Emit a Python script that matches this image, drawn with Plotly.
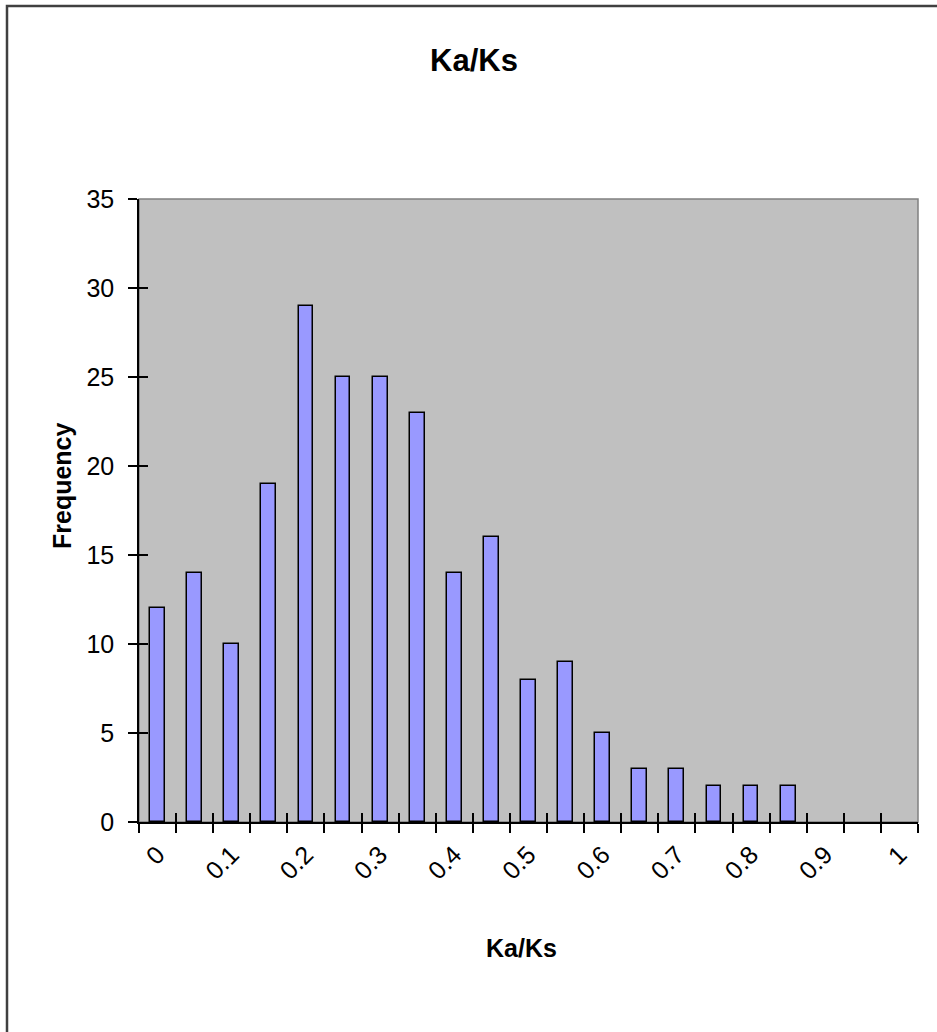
import plotly.graph_objects as go

# Data
bin_centers = [0.0, 0.05, 0.1, 0.15, 0.2, 0.25, 0.3, 0.35, 0.4, 0.45, 0.5,
               0.55, 0.6, 0.65, 0.7, 0.75, 0.8, 0.85, 0.9, 0.95, 1.0]
frequency = [12, 14, 10, 19, 29, 25, 25, 23, 14, 16, 8,
             9, 5, 3, 3, 2, 2, 2, 0, 0, 0]
x_tick_vals = [0.0, 0.1, 0.2, 0.3, 0.4, 0.5, 0.6, 0.7, 0.8, 0.9, 1.0]
x_tick_text = ["0", "0.1", "0.2", "0.3", "0.4", "0.5", "0.6", "0.7", "0.8", "0.9", "1"]
y_tick_vals = [0, 5, 10, 15, 20, 25, 30, 35]

FONT = "Arial, 'Liberation Sans', sans-serif"
W, H = 937, 1032
L, R, T, B = 139, 19, 199, 210
pw, ph = W - L - R, H - T - B

xrange_ = [-0.025, 1.025]
yrange_ = [0, 35]

# empty bins get no outline (as in the original, nothing is drawn for them)
outline_widths = [1.5 if f > 0 else 0 for f in frequency]

fig = go.Figure()
fig.add_trace(go.Bar(
    x=bin_centers, y=frequency, width=0.02,
    marker=dict(color="#9999FF", line=dict(color="black", width=outline_widths)),
    showlegend=False, hoverinfo="x+y",
))
# empty helper traces so the overlay axes (crossing ticks / labels) are drawn
fig.add_trace(go.Scatter(x=[None], y=[None], xaxis="x2", yaxis="y2",
                         showlegend=False, hoverinfo="skip"))
fig.add_trace(go.Scatter(x=[None], y=[None], xaxis="x3", yaxis="y",
                         showlegend=False, hoverinfo="skip"))

fig.update_layout(
    width=W, height=H,
    margin=dict(l=L, r=R, t=T, b=B),
    paper_bgcolor="white",
    plot_bgcolor="#C0C0C0",
    font=dict(family=FONT, color="black"),
    title=dict(text="<b>Ka/Ks</b>", font=dict(size=31, family=FONT, color="black"),
               xref="container", yref="container", x=474 / W, y=1 - 60 / H,
               xanchor="center", yanchor="middle"),
    bargap=0,
    xaxis=dict(range=xrange_, tickmode="linear", tick0=-0.025, dtick=0.05,
               ticks="outside", ticklen=9, tickwidth=1.5, tickcolor="black",
               showticklabels=False, showgrid=False, zeroline=False,
               showline=True, linecolor="black", linewidth=2),
    xaxis2=dict(range=xrange_, overlaying="x", anchor="y", side="bottom",
                tickmode="linear", tick0=-0.025, dtick=0.05,
                ticks="inside", ticklen=9, tickwidth=1.5, tickcolor="black",
                showticklabels=False, showgrid=False, zeroline=False, showline=False),
    xaxis3=dict(range=xrange_, overlaying="x", anchor="y", side="bottom",
                tickmode="array", tickvals=x_tick_vals, ticktext=x_tick_text,
                ticks="", tickangle=-45, ticklabelstandoff=12,
                tickfont=dict(size=25, family=FONT, color="black"),
                showgrid=False, zeroline=False, showline=False),
    yaxis=dict(range=yrange_, tickmode="array", tickvals=y_tick_vals,
               ticks="outside", ticklen=9, tickwidth=1.5, tickcolor="black",
               ticklabelstandoff=9,
               tickfont=dict(size=25, family=FONT, color="black"),
               showgrid=False, zeroline=False,
               showline=True, linecolor="black", linewidth=1.5),
    yaxis2=dict(range=yrange_, overlaying="y", anchor="x", side="left",
                tickmode="array", tickvals=y_tick_vals,
                ticks="inside", ticklen=9, tickwidth=1.5, tickcolor="black",
                showticklabels=False, showgrid=False, zeroline=False, showline=False),
    shapes=[
        dict(type="rect", xref="paper", yref="paper", x0=0, x1=1, y0=0, y1=1,
             line=dict(color="#808080", width=1.5), layer="below"),
        dict(type="rect", xref="paper", yref="paper",
             x0=(7 - L) / pw, x1=(W + 10 - L) / pw,
             y0=-(H + 10 - T - ph) / ph, y1=(T + ph - 6) / ph,
             line=dict(color="#404040", width=2.5), fillcolor="rgba(0,0,0,0)"),
    ],
    annotations=[
        dict(text="<b>Ka/Ks</b>", xref="paper", yref="paper",
             x=(521 - L) / pw, y=-(948 - T - ph) / ph,
             xanchor="center", yanchor="middle", showarrow=False,
             font=dict(size=25, family=FONT, color="black")),
        dict(text="<b>Frequency</b>", xref="paper", yref="paper",
             x=(62 - L) / pw, y=(T + ph - 486) / ph, textangle=-90,
             xanchor="center", yanchor="middle", showarrow=False,
             font=dict(size=25, family=FONT, color="black")),
    ],
)

fig.write_html("out.html",
               config={"displayModeBar": False},
               post_script="document.body.style.margin='0';document.body.style.overflow='hidden';")
